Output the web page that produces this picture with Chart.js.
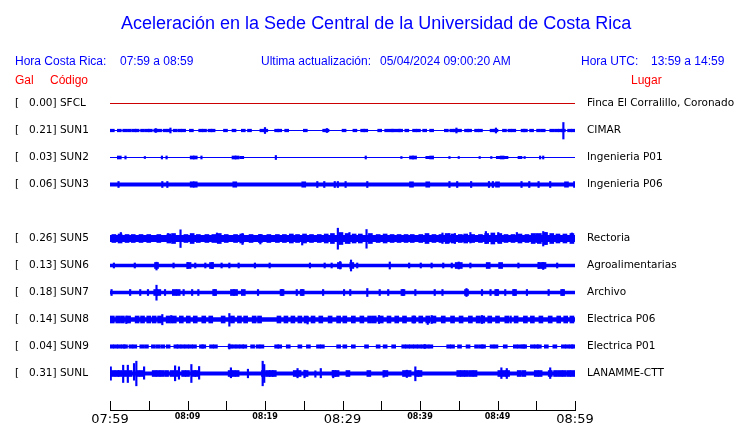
<!DOCTYPE html>
<html>
<head>
<meta charset="utf-8">
<script src="https://cdn.jsdelivr.net/npm/chart.js@4.4.1/dist/chart.umd.min.js"></script>
<style>
  body { margin: 0; background: #fff; }
  #wrap { position: relative; width: 740px; height: 423px; overflow: hidden; }
  #chart { position: absolute; left: 0; top: 0; }
  .t { position: absolute; white-space: pre; font-family: 'Liberation Sans', Arial, sans-serif; line-height: 12px; font-size: 12px; color: #0000ff; }
  .red { color: #ff0000; }
  #title { font-size: 18px; line-height: 18px; top: 14px; left: 121px; }
</style>
</head>
<body>
<div id="wrap">
  <canvas id="chart" width="740" height="423"></canvas>
  <div class="t" id="title">Aceleración en la Sede Central de la Universidad de Costa Rica</div>
  <div class="t" style="left:15px; top:55px">Hora Costa Rica:</div>
  <div class="t" style="left:120px; top:55px">07:59 a 08:59</div>
  <div class="t" style="left:261px; top:55px">Ultima actualización:</div>
  <div class="t" style="left:380px; top:55px">05/04/2024 09:00:20 AM</div>
  <div class="t" style="left:581px; top:55px">Hora UTC:</div>
  <div class="t" style="left:651px; top:55px">13:59 a 14:59</div>
  <div class="t red" style="left:15px; top:74px">Gal</div>
  <div class="t red" style="left:50px; top:74px">Código</div>
  <div class="t red" style="left:631px; top:74px">Lugar</div>
</div>
<script>
// stations, top to bottom (slot 4 has no trace)
const codes = ['SFCL', 'SUN1', 'SUN2', 'SUN3', 'SUN5', 'SUN6', 'SUN7', 'SUN8', 'SUN9', 'SUNL'];
const peakGal = [0.00, 0.21, 0.03, 0.06, 0.26, 0.13, 0.18, 0.14, 0.04, 0.31];
const places = ['Finca El Corralillo, Coronado', 'CIMAR', 'Ingenieria P01', 'Ingenieria P06', 'Rectoria',
  'Agroalimentarias', 'Archivo', 'Electrica P06', 'Electrica P01', 'LANAMME-CTT'];
const slots = [0, 1, 2, 3, 5, 6, 7, 8, 9, 10];

// time window: minutes after 07:59 local
const startMinute = 7 * 60 + 59;
const spanMinutes = 60;

// background noise level of each trace (half amplitude, trace units)
const baseAmp = [0.5, 0.5, 0.5, 2.0, 3.5, 1.7, 1.8, 2.3, 0.5, 1.9];

// bursts: [minute, half amplitude]
const sfclBursts = [];
const sun1Bursts = [[0.3, 1.3], [1.2, 1.3], [1.9, 1.3], [2.5, 1.3], [3.1, 1.3], [3.5, 1.3], [4.2, 1.3], [4.8, 1.3], [5.2, 1.3],
  [5.9, 1.3], [6.4, 1.3], [7.1, 1.3], [7.6, 1.3], [8.4, 1.3], [9.0, 1.3], [9.5, 1.3], [10.5, 1.3], [11.7, 1.3], [12.2, 1.3],
  [12.9, 1.3], [13.3, 1.3], [14.9, 1.3], [16.0, 1.3], [17.2, 1.3], [18.0, 1.3], [19.6, 1.3], [20.1, 1.3], [21.5, 1.3], [21.9, 1.3],
  [22.8, 1.3], [25.2, 1.3], [27.7, 1.3], [28.0, 1.3], [30.2, 1.3], [31.6, 1.3], [32.6, 1.3], [33.0, 1.3], [34.8, 1.3], [35.7, 1.3],
  [36.3, 1.3], [36.6, 1.3], [37.2, 1.3], [37.5, 1.3], [38.3, 1.3], [39.3, 1.3], [39.8, 1.3], [40.6, 1.3], [41.5, 1.3], [43.4, 1.3],
  [44.1, 1.3], [44.6, 1.3], [45.1, 1.3], [46.0, 1.3], [46.4, 1.3], [47.3, 1.3], [47.8, 1.3], [49.3, 1.3], [49.8, 1.3], [50.9, 1.3],
  [51.6, 1.3], [52.1, 1.3], [53.3, 1.3], [53.6, 1.3], [54.4, 1.3], [55.3, 1.3], [55.9, 1.3], [57.0, 1.3], [57.6, 1.3], [58.1, 1.3],
  [58.5, 1.3], [59.3, 1.3], [59.8, 1.3]];
const sun2Bursts = [[1.2, 1.5], [10.6, 1.5], [11.0, 1.5], [16.0, 1.5], [16.4, 1.5], [17.0, 1.2], [38.9, 1.5], [39.3, 1.5],
  [41.0, 1.2], [41.5, 1.5], [50.1, 1.2], [50.6, 1.5], [51.1, 1.2], [52.9, 1.2]];
const sun3Bursts = [[10.6, 2.7], [11.0, 2.7], [16.1, 2.7], [25.0, 2.7], [38.9, 2.7], [41.0, 2.7], [50.0, 2.7], [58.9, 2.7]];
const sun5Bursts = [[0.5, 4], [1.3, 4.5], [2.2, 4], [3.0, 4], [4.0, 4], [5.0, 4], [6.3, 4], [7.6, 4.5], [8.2, 5], [9.8, 4],
  [10.6, 5], [11.4, 4], [12.5, 4], [13.4, 4], [14.1, 5], [15.0, 4], [16.2, 4], [17.0, 4.5], [18.2, 4], [19.4, 4],
  [20.5, 4], [21.6, 4], [22.5, 4], [23.4, 4.5], [24.2, 4], [25.1, 4.5], [26.0, 4], [27.0, 4], [27.9, 4.5], [28.7, 5],
  [29.8, 6], [30.6, 5], [31.5, 4.5], [32.3, 4.5], [33.6, 5], [34.6, 4], [35.5, 4.5], [36.4, 4], [37.3, 4], [38.2, 4],
  [39.0, 4], [40.1, 4], [40.9, 5], [41.8, 4], [42.7, 4], [43.5, 5], [44.3, 4.5], [45.2, 4], [45.9, 4.5], [46.8, 4],
  [47.8, 4], [48.6, 5], [49.4, 5.5], [50.3, 5], [51.1, 4], [52.0, 4], [52.9, 4.5], [53.8, 4], [54.6, 5], [55.4, 5],
  [56.2, 6], [57.0, 5], [57.8, 4.5], [58.7, 4.5], [59.6, 5]];
const sun6Bursts = [[6.0, 3], [10.2, 3], [13.1, 3], [29.6, 3], [31.2, 3], [44.8, 3], [45.2, 3], [48.8, 3], [50.4, 3], [55.5, 3], [56.0, 3]];
const sun7Bursts = [[5.9, 3], [6.3, 3], [8.3, 3], [8.8, 3], [13.5, 3], [15.8, 3], [16.2, 3], [17.2, 3], [22.2, 3], [24.8, 3],
  [37.8, 3], [46.0, 3], [49.9, 3], [52.2, 3], [58.4, 3]];
const sun8Bursts = [[0.3, 3.5], [1.0, 3.5], [1.6, 3.5], [2.4, 3.5], [3.5, 3.5], [4.2, 3.5], [5.0, 3.5], [5.7, 3.5], [6.4, 3.5],
  [7.5, 3.5], [8.3, 3.5], [9.2, 3.5], [10.1, 3.5], [11.0, 3.5], [12.1, 3.5], [13.0, 3.5], [14.6, 3.5], [15.8, 3.5], [16.7, 3.5],
  [17.5, 3.5], [18.6, 3.5], [19.3, 3.5], [21.8, 3.5], [22.7, 3.5], [23.6, 3.5], [24.5, 3.5], [25.3, 3.5], [26.2, 3.5], [27.2, 3.5],
  [28.4, 3.5], [29.5, 3.5], [30.3, 3.5], [31.4, 3.5], [32.5, 3.5], [33.5, 3.5], [34.1, 3.5], [35.0, 3.5], [36.0, 3.5], [37.0, 3.5],
  [38.0, 3.5], [39.2, 3.5], [40.1, 3.5], [41.0, 3.5], [41.8, 3.5], [43.0, 3.5], [44.2, 3.5], [45.3, 3.5], [46.5, 3.5], [47.5, 3.5],
  [48.1, 3.5], [49.0, 3.5], [50.0, 3.5], [51.2, 3.5], [52.4, 3.5], [53.6, 3.5], [54.5, 3.5], [55.6, 3.5], [56.8, 3.5], [57.9, 3.5],
  [58.8, 3.5], [59.6, 3.5]];
const sun9Bursts = [[0.2, 1.7], [0.7, 1.7], [1.2, 1.7], [1.7, 1.7], [2.0, 1.7], [2.7, 1.7], [3.2, 1.7], [4.1, 1.7], [4.7, 1.7],
  [5.6, 1.7], [6.2, 1.7], [6.8, 1.7], [7.5, 1.7], [8.5, 1.7], [8.9, 1.7], [9.4, 1.7], [9.9, 1.7], [10.4, 1.7], [10.9, 1.7],
  [11.8, 1.7], [12.1, 1.7], [13.1, 1.7], [13.6, 1.7], [15.5, 1.7], [16.0, 1.7], [16.5, 1.7], [17.0, 1.7], [17.4, 1.7], [18.4, 1.7],
  [19.1, 1.7], [19.6, 1.7], [21.5, 1.7], [21.9, 1.7], [23.0, 1.7], [24.5, 1.7], [25.6, 1.7], [26.9, 1.7], [27.4, 1.7], [29.5, 1.7],
  [30.3, 1.7], [31.4, 1.7], [33.1, 1.7], [34.6, 1.7], [35.5, 1.7], [36.6, 1.7], [37.9, 1.7], [38.4, 1.7], [38.9, 1.7], [39.4, 1.7],
  [39.9, 1.7], [40.4, 1.7], [40.9, 1.7], [41.4, 1.7], [43.7, 1.7], [44.2, 1.7], [45.1, 1.7], [46.2, 1.7], [47.3, 1.7], [47.9, 1.7],
  [48.2, 1.7], [49.3, 1.7], [49.8, 1.7], [51.0, 1.7], [52.3, 1.7], [52.8, 1.7], [53.3, 1.7], [53.5, 1.7], [54.5, 1.7], [55.0, 1.7],
  [55.4, 1.7], [56.3, 1.7], [57.4, 1.7], [58.5, 1.7], [59.0, 1.7], [59.5, 1.7], [59.8, 1.7]];
const sunlBursts = [[0.4, 3], [0.9, 3], [1.3, 3], [2.0, 3], [2.6, 3], [3.6, 3], [4.1, 3], [5.7, 3], [6.2, 3], [6.7, 3], [7.3, 3],
  [8.0, 3], [8.6, 3], [9.5, 3], [10.0, 3], [10.8, 3], [11.2, 3], [15.5, 3], [15.9, 3], [16.4, 3], [19.8, 3], [20.4, 3], [20.8, 3],
  [21.2, 3], [23.9, 3], [24.4, 3], [25.3, 3], [28.9, 3], [29.3, 3], [30.7, 3], [33.4, 3], [35.6, 3], [38.0, 3], [38.6, 3], [39.6, 3],
  [40.0, 3], [45.0, 3], [45.5, 3], [46.0, 3], [46.6, 3], [47.1, 3], [50.3, 3], [50.8, 3], [51.3, 3], [52.8, 3], [53.4, 3], [55.0, 3],
  [55.5, 3], [56.8, 3], [57.5, 3], [58.1, 3], [58.6, 3], [59.2, 3], [59.7, 3]];

// spikes: [minute, amplitude up, amplitude down]
const sfclSpikes = [];
const sun1Spikes = [[58.5, 8, 8.5], [20.0, 3, 3], [44.7, 2.5, 2.5], [7.8, 2.5, 2.5], [49.8, 2.5, 2.5], [5.9, 2, 2], [28.0, 2, 2]];
const sun2Spikes = [[2.0, 1.5, 1.5], [4.5, 1, 1], [6.7, 1.5, 1.5], [7.3, 1.5, 1.5], [11.8, 1.5, 1.5], [21.4, 2, 2], [33.0, 1.5, 1.5],
  [37.6, 1, 1], [43.8, 1, 1], [45.0, 1, 1], [47.7, 1, 1], [49.2, 1, 1], [53.5, 1, 1], [55.5, 1.5, 1.5], [55.9, 1.5, 1.5]];
const sun3Spikes = [[1.1, 3, 3], [6.75, 3, 3], [7.4, 3, 3], [26.75, 3, 3], [27.65, 3, 3], [29.0, 3, 3], [29.4, 3, 3], [30.4, 3, 3],
  [33.2, 3, 3], [43.8, 3, 3], [44.8, 3, 3], [46.6, 3, 3], [48.9, 3, 3], [49.4, 3, 3], [53.1, 3, 3], [54.1, 3, 3], [55.3, 3, 3],
  [56.8, 3, 3], [59.9, 3, 3]];
const sun5Spikes = [[1.4, 6, 4], [7.5, 5, 4], [9.1, 8.7, 9], [13.8, 5.5, 4], [17.1, 5, 6], [19.4, 4, 5.5], [24.8, 3, 6.5],
  [29.4, 10.3, 10.7], [30.9, 6, 5], [33.1, 9, 9.7], [42.9, 5.5, 5], [43.8, 5, 4], [44.5, 5, 5], [46.5, 6, 4.5], [48.5, 7, 5],
  [50.1, 6, 4], [52.5, 6, 3], [55.0, 5, 4], [55.9, 7, 7.5], [56.2, 6, 6], [59.6, 5.5, 4]];
const sun6Spikes = [[0.5, 2.5, 2.5], [3.2, 2.5, 2.5], [6.0, 3.3, 4.5], [8.2, 2.5, 2.5], [10.0, 3, 3], [11.0, 2.5, 2.5], [12.3, 2.5, 2.5],
  [13.2, 3, 3], [14.4, 2.5, 2.5], [15.4, 2.5, 2.5], [16.6, 2.5, 2.5], [18.7, 2.5, 2.5], [20.6, 2.5, 2.5], [25.8, 2.5, 2.5],
  [27.7, 2.5, 2.5], [28.6, 2.5, 2.5], [29.7, 4, 3.5], [31.1, 5.5, 5.5], [31.9, 2.5, 2.5], [36.1, 3.5, 3.5], [38.6, 2.5, 2.5],
  [40.1, 2.5, 2.5], [41.5, 2.5, 2.5], [43.0, 2.5, 2.5], [44.1, 2.5, 2.5], [45.0, 3.5, 3.5], [46.5, 2.5, 2.5], [52.7, 2.5, 2.5],
  [55.3, 3, 3], [55.9, 3, 4], [57.7, 2.5, 2.5]];
const sun7Spikes = [[6.0, 7.3, 7.7], [0.2, 3, 3], [2.6, 3, 3], [3.9, 3, 3], [4.9, 3, 3], [7.1, 3, 3], [9.5, 3, 3], [10.6, 3, 3],
  [11.4, 3, 3], [13.5, 3, 3], [19.1, 3, 3], [22.2, 3, 3], [24.1, 3, 3], [24.8, 3, 3], [27.5, 3, 3], [30.2, 3, 3], [31.0, 3, 3],
  [33.2, 4, 4], [34.8, 3, 3], [35.9, 3, 3], [37.8, 3, 3], [39.4, 3, 3], [41.9, 3, 3], [42.9, 3, 3], [46.0, 4, 4], [48.0, 3, 3],
  [49.1, 3, 3], [49.9, 3, 3], [51.0, 3, 3], [52.2, 3, 3], [53.8, 3, 3], [56.6, 3, 3], [58.4, 3, 3]];
const sun8Spikes = [[6.75, 5, 5.3], [15.4, 6, 6.7], [25.5, 3, 4.5], [34.7, 4, 4], [39.2, 3.5, 3.5], [41.0, 3, 5], [41.5, 4, 4],
  [48.0, 4, 4], [51.7, 3.5, 3.5], [2.1, 3.5, 4], [7.9, 4, 3.5]];
const sun9Spikes = [[15.4, 2.5, 2.5], [40.6, 2, 2]];
const sunlSpikes = [[0.1, 6.7, 6.7], [1.7, 8.3, 9], [2.3, 8.3, 9], [3.1, 10, 6.7], [3.4, 12.3, 12.3], [4.4, 6.7, 5.7], [8.4, 7.7, 7.3],
  [8.9, 6.7, 5.7], [10.5, 9, 9], [11.5, 7, 5.7], [15.6, 5.7, 4.3], [17.8, 4.3, 4.3], [19.7, 12.3, 12.3], [19.9, 9, 9], [24.2, 5, 4.3],
  [25.1, 3.3, 4.3], [26.5, 2.7, 3.7], [27.2, 5, 4.3], [28.8, 3, 4.3], [35.3, 3, 3.7], [38.3, 3.3, 4], [39.4, 6.7, 7.3],
  [50.5, 5.7, 5], [51.2, 5, 5], [56.8, 5.7, 5]];

const allBursts = [sfclBursts, sun1Bursts, sun2Bursts, sun3Bursts, sun5Bursts, sun6Bursts, sun7Bursts, sun8Bursts, sun9Bursts, sunlBursts];
const allSpikes = [sfclSpikes, sun1Spikes, sun2Spikes, sun3Spikes, sun5Spikes, sun6Spikes, sun7Spikes, sun8Spikes, sun9Spikes, sunlSpikes];

const GAP = 27; // trace spacing in amplitude units
const BLUE = '#0000ff';
const RED = '#cc0000';

const datasets = [];
codes.forEach((code, i) => {
    const off = slots[i] * GAP;
    const col = i === 0 ? RED : BLUE;
    const b = baseAmp[i];
    // noise band: fill between upper and lower envelope
    datasets.push({ type: 'line', data: [{ x: 0, y: off - b }, { x: spanMinutes, y: off - b }],
        borderColor: 'transparent', borderWidth: 0, pointRadius: 0, fill: false });
    datasets.push({ type: 'line', data: [{ x: 0, y: off + b }, { x: spanMinutes, y: off + b }],
        borderColor: 'transparent', borderWidth: 0, pointRadius: 0, fill: '-1', backgroundColor: col });
    datasets.push({ type: 'bar', data: allBursts[i].map(([m, h]) => ({ x: m, y: [off - h, off + h] })),
        backgroundColor: col, barThickness: 4, grouped: false });
    datasets.push({ type: 'bar', data: allSpikes[i].map(([m, u, d]) => ({ x: m, y: [off - u, off + d] })),
        backgroundColor: col, barThickness: 1.5, grouped: false });
});

const clock = v => {
    const t = startMinute + v;
    return String(Math.floor(t / 60)).padStart(2, '0') + ':' + String(t % 60).padStart(2, '0');
};

// upward tick marks on the time axis
const tickMarks = {
    id: 'tickMarks',
    afterDraw(chart) {
        const { ctx, chartArea } = chart;
        const xs = chart.scales.x;
        ctx.save();
        ctx.strokeStyle = '#000';
        ctx.lineWidth = 1;
        xs.ticks.forEach(t => {
            const px = Math.round(xs.getPixelForValue(t.value)) + 0.5;
            ctx.beginPath();
            ctx.moveTo(px, chartArea.bottom);
            ctx.lineTo(px, chartArea.bottom - 9);
            ctx.stroke();
        });
        ctx.restore();
    }
};

const stationTicks = scale => { scale.ticks = slots.map(s => ({ value: s * GAP })); };
// fixed axis width, and no label overhang padding pushed into the layout
const fixWidth = w => s => { s.width = w; s.paddingTop = 0; s.paddingBottom = 0; };
const labelFont = { family: "'DejaVu Sans', sans-serif", size: 10.5 };

new Chart(document.getElementById('chart'), {
    type: 'bar',
    data: { datasets },
    plugins: [tickMarks],
    options: {
        responsive: false,
        animation: false,
        events: [],
        layout: { padding: { top: 90, left: 15, right: 0, bottom: 0 } },
        plugins: { legend: { display: false }, tooltip: { enabled: false } },
        scales: {
            x: {
                type: 'linear', min: 0, max: spanMinutes, offset: false,
                grid: { display: false, drawTicks: false },
                border: { display: true, color: '#000', width: 1 },
                afterFit: s => { s.height = 13; },
                ticks: {
                    stepSize: 5, autoSkip: false, maxRotation: 0, minRotation: 0, padding: 2, color: '#000',
                    callback: v => (v % 10 === 0 ? clock(v) : ''),
                    font: c => (c.tick && c.tick.value % 30 === 0)
                        ? { family: "'DejaVu Sans', sans-serif", size: 13 }
                        : { family: "'DejaVu Sans', sans-serif", size: 8, weight: 'bold' }
                }
            },
            y: {
                type: 'linear', position: 'left', reverse: true, min: -13.5, max: 306.5,
                grid: { display: false, drawTicks: false }, border: { display: false },
                afterBuildTicks: stationTicks,
                afterFit: fixWidth(95),
                ticks: { crossAlign: 'far', padding: 0, color: '#000', font: labelFont,
                    callback: (v, i) => '[   ' + peakGal[i].toFixed(2) + '] ' + codes[i] }
            },
            y2: {
                type: 'linear', position: 'right', reverse: true, min: -13.5, max: 306.5,
                grid: { display: false, drawTicks: false }, border: { display: false },
                afterBuildTicks: stationTicks,
                afterFit: fixWidth(165),
                ticks: { padding: 12, color: '#000', font: labelFont,
                    callback: (v, i) => places[i] }
            }
        }
    }
});
</script>
</body>
</html>
